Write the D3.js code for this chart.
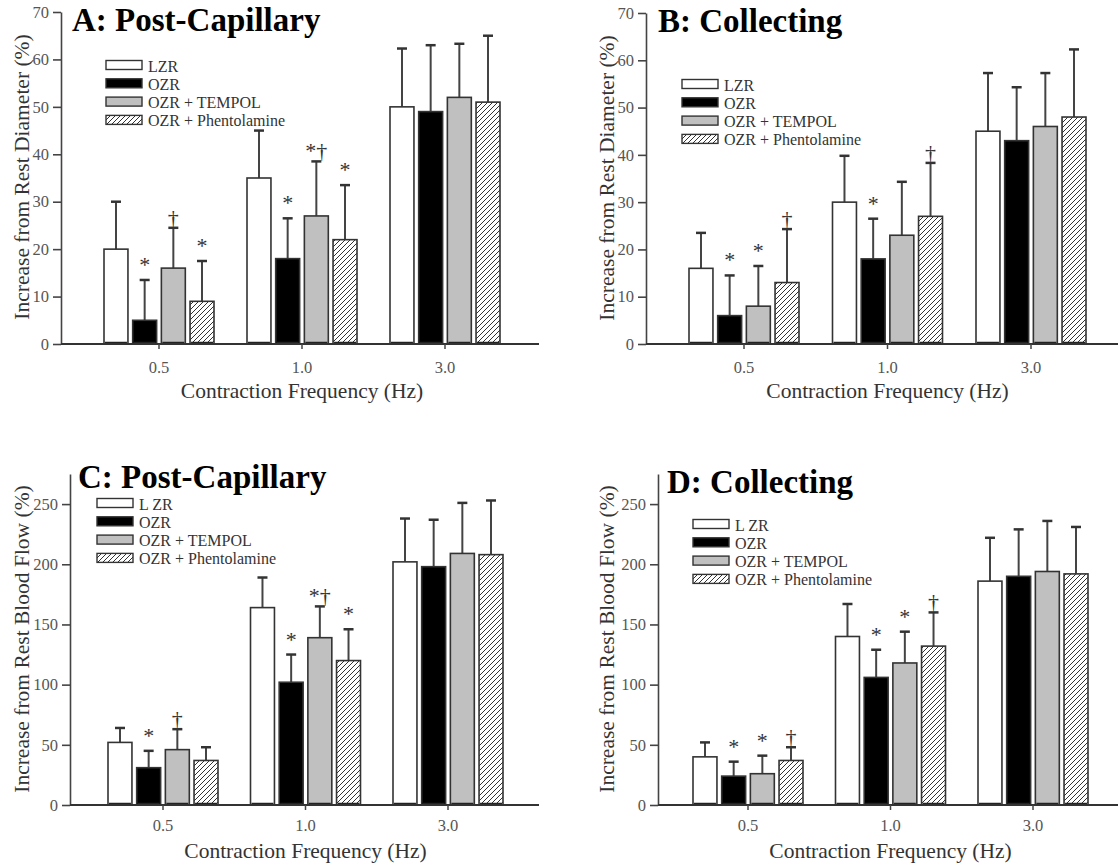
<!DOCTYPE html>
<html><head><meta charset="utf-8">
<script src="https://cdn.jsdelivr.net/npm/d3@7/dist/d3.min.js"></script>
<style>body{margin:0;background:#fff}svg{display:block}svg text{font-family:"Liberation Serif","Times New Roman",serif}</style>
</head><body><svg id="c" width="1118" height="865"></svg>
<script>
// ---------- DATA ----------
const categories = ["0.5", "1.0", "3.0"];
const groupsDiam = ["LZR", "OZR", "OZR + TEMPOL", "OZR + Phentolamine"];
const groupsFlow = ["L ZR", "OZR", "OZR + TEMPOL", "OZR + Phentolamine"];
const yTicksDiam = [0, 10, 20, 30, 40, 50, 60, 70];
const yTicksFlow = [0, 50, 100, 150, 200, 250];

// rows = categories, cols = groups
const postDiamMean = [[20, 5, 16, 9], [35, 18, 27, 22], [50, 49, 52, 51]];
const postDiamSE   = [[10, 8.5, 8.5, 8.5], [10, 8.5, 11.5, 11.5], [12.3, 14, 11.3, 14]];
const postDiamSig  = [["", "*", "†", "*"], ["", "*", "*†", "*"], ["", "", "", ""]];

const collDiamMean = [[16, 6, 8, 13], [30, 18, 23, 27], [45, 43, 46, 48]];
const collDiamSE   = [[7.5, 8.5, 8.5, 11.3], [9.8, 8.5, 11.3, 11.3], [12.3, 11.3, 11.3, 14.3]];
const collDiamSig  = [["", "*", "*", "†"], ["", "*", "", "†"], ["", "", "", ""]];

const postFlowMean = [[52, 31, 46, 37], [164, 102, 139, 120], [202, 198, 209, 208]];
const postFlowSE   = [[12, 14, 17, 11], [25, 23, 26, 26], [36, 39, 42, 45]];
const postFlowSig  = [["", "*", "†", ""], ["", "*", "*†", "*"], ["", "", "", ""]];

const collFlowMean = [[40, 24, 26, 37], [140, 106, 118, 132], [186, 190, 194, 192]];
const collFlowSE   = [[12, 12, 15, 11], [27, 23, 26, 28], [36, 39, 42, 39]];
const collFlowSig  = [["", "*", "*", "†"], ["", "*", "*", "†"], ["", "", "", ""]];

// ---------- LAYOUT ----------
const panels = [
  {title: "A: Post-Capillary", groups: groupsDiam, mean: postDiamMean, se: postDiamSE, sig: postDiamSig,
   yMax: 70, yTicks: yTicksDiam, yLabel: "Increase from Rest Diameter (%)",
   axisX: 61, xEnd: 539, y0: 344, yTop: 12, c0: 159, c2: 445, tickPad: 12,
   titleX: 72, titleY: 31, legX: 106, legY: 65, ylabX: 22, ylabY: 177, xlabY: 398},
  {title: "B: Collecting", groups: groupsDiam, mean: collDiamMean, se: collDiamSE, sig: collDiamSig,
   yMax: 70, yTicks: yTicksDiam, yLabel: "Increase from Rest Diameter (%)",
   axisX: 646, xEnd: 1118, y0: 344, yTop: 13, c0: 744, c2: 1031, tickPad: 12,
   titleX: 658, titleY: 32, legX: 682, legY: 84, ylabX: 607, ylabY: 178, xlabY: 398},
  {title: "C: Post-Capillary", groups: groupsFlow, mean: postFlowMean, se: postFlowSE, sig: postFlowSig,
   yMax: 275, yTicks: yTicksFlow, yLabel: "Increase from Rest Blood Flow (%)",
   axisX: 70, xEnd: 539, y0: 805, yTop: 474, c0: 163, c2: 448, tickPad: 9,
   titleX: 78, titleY: 488, legX: 97, legY: 503, ylabX: 22, ylabY: 639, xlabY: 858},
  {title: "D: Collecting", groups: groupsFlow, mean: collFlowMean, se: collFlowSE, sig: collFlowSig,
   yMax: 275, yTicks: yTicksFlow, yLabel: "Increase from Rest Blood Flow (%)",
   axisX: 658, xEnd: 1118, y0: 805, yTop: 474, c0: 748, c2: 1033, tickPad: 9,
   titleX: 667, titleY: 493, legX: 693, legY: 524, ylabX: 607, ylabY: 639, xlabY: 858}
];

const fills = ["#ffffff", "#000000", "#c0c0c0", "url(#hatch)"];
const svg = d3.select("#c");

const defs = svg.append("defs");
const pat = defs.append("pattern").attr("id", "hatch").attr("patternUnits", "userSpaceOnUse")
  .attr("width", 5).attr("height", 5);
pat.append("rect").attr("width", 5).attr("height", 5).attr("fill", "#fff");
pat.append("path").attr("d", "M-1,1 l2,-2 M0,5 l5,-5 M4,6 l2,-2")
  .attr("stroke", "#333").attr("stroke-width", 1);

panels.forEach(p => {
  const g = svg.append("g");
  const step = (p.c2 - p.c0) / 2;
  const x0 = d3.scaleBand().domain(categories).range([p.c0 - step / 2, p.c2 + step / 2]).padding(0);
  const groupW = 110;
  const x1 = d3.scaleBand().domain(p.groups).range([0, groupW]).paddingInner(0.165).paddingOuter(0);
  const y = d3.scaleLinear().domain([0, p.yMax]).range([p.y0, p.yTop]);

  // bars
  categories.forEach((cat, ci) => {
    const gx = x0(cat) + x0.bandwidth() / 2 - groupW / 2;
    p.groups.forEach((grp, si) => {
      const m = p.mean[ci][si], s = p.se[ci][si];
      const bx = gx + x1(grp), bw = x1.bandwidth(), cx = bx + bw / 2;
      // error bar
      g.append("line").attr("x1", cx).attr("x2", cx).attr("y1", y(m)).attr("y2", y(m + s))
        .attr("stroke", "#444").attr("stroke-width", 2);
      g.append("line").attr("x1", cx - 5).attr("x2", cx + 5).attr("y1", y(m + s)).attr("y2", y(m + s))
        .attr("stroke", "#333").attr("stroke-width", 2.5);
      g.append("rect").attr("x", bx).attr("y", y(m)).attr("width", bw).attr("height", y(0) - y(m))
        .attr("fill", fills[si]).attr("stroke", "#333").attr("stroke-width", 1.6);
      // darker base
      g.append("line").attr("x1", bx + 1).attr("x2", bx + bw - 1).attr("y1", y(0) - 1.5).attr("y2", y(0) - 1.5)
        .attr("stroke", "#222").attr("stroke-width", 1.5);
      const sig = p.sig[ci][si];
      if (sig) {
        g.append("text").attr("x", cx).attr("y", y(m + s) - (sig === "*" ? 8 : 3))
          .attr("text-anchor", "middle").attr("font-size", 22)
          .attr("fill", "#333").text(sig);
      }
    });
  });

  // y axis
  const ya = g.append("g").attr("transform", `translate(${p.axisX},0)`)
    .call(d3.axisLeft(y).tickValues(p.yTicks).tickSize(8).tickSizeOuter(0).tickPadding(4).tickFormat(d3.format("d")));
  ya.attr("font-family", null);
  ya.selectAll("path,line").attr("stroke", "#444").attr("stroke-width", 1.6);
  ya.selectAll("text").attr("font-size", 16.5).attr("fill", "#555");

  // x axis
  g.append("line").attr("x1", p.axisX).attr("x2", p.xEnd).attr("y1", p.y0).attr("y2", p.y0)
    .attr("stroke", "#333").attr("stroke-width", 1.8);
  const xa = g.append("g").attr("transform", `translate(0,${p.y0})`)
    .call(d3.axisBottom(x0).tickSize(5).tickPadding(p.tickPad).tickSizeOuter(0));
  xa.attr("font-family", null);
  xa.select(".domain").remove();
  xa.selectAll("line").attr("stroke", "#444").attr("stroke-width", 1.5);
  xa.selectAll("text").attr("font-size", 16.5).attr("fill", "#555");

  // labels
  g.append("text").attr("x", x0("1.0") + x0.bandwidth() / 2).attr("y", p.xlabY)
    .attr("text-anchor", "middle").attr("font-size", 21.5).attr("fill", "#333")
    .text("Contraction Frequency (Hz)");
  g.append("text").attr("transform", `translate(${p.ylabX},${p.ylabY}) rotate(-90)`)
    .attr("text-anchor", "middle").attr("dominant-baseline", "central")
    .attr("font-size", 21.5).attr("fill", "#333").text(p.yLabel);
  g.append("text").attr("x", p.titleX).attr("y", p.titleY)
    .attr("font-weight", "bold").attr("font-size", 33).attr("fill", "#000").text(p.title);

  // legend
  const leg = g.append("g").attr("transform", `translate(${p.legX},${p.legY})`);
  p.groups.forEach((grp, si) => {
    leg.append("rect").attr("x", 0).attr("y", si * 18.3 - 4.5).attr("width", 36).attr("height", 9)
      .attr("fill", fills[si]).attr("stroke", "#333").attr("stroke-width", 1.4);
    leg.append("text").attr("x", 42).attr("y", si * 18.3 + 1).attr("dominant-baseline", "central")
      .attr("font-size", 16).attr("fill", "#333").text(grp);
  });
});
</script></body></html>
